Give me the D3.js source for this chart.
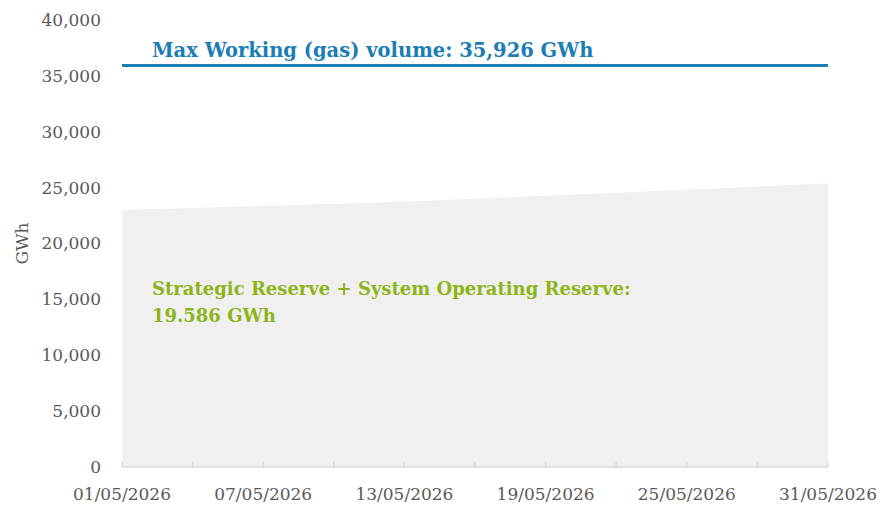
<!DOCTYPE html>
<html>
<head>
<meta charset="utf-8">
<script src="https://cdn.jsdelivr.net/npm/d3@7"></script>
<style>
  body { margin: 0; background: #fff; }
  svg { display: block; }
  .axis text { font-family: "DejaVu Serif", serif; font-size: 17px; fill: #595959; }
  .note { font-family: "DejaVu Serif", serif; font-weight: bold; }
</style>
</head>
<body>
<svg id="chart" width="879" height="505"></svg>
<script>
// daily dates in May 2026
var dates = d3.range(1, 32).map(function(d) { return new Date(2026, 4, d); });
// storage level for strategic + system operating reserve (GWh)
var reserveLevel = [23000, 23060, 23120, 23180, 23240, 23300, 23360, 23420, 23480, 23540,
  23600, 23670, 23750, 23830, 23920, 24010, 24100, 24190, 24280, 24370,
  24460, 24550, 24640, 24730, 24820, 24910, 25000, 25090, 25180, 25270, 25360];
var maxWorkingVolume = 35926;
var yTicks = [0, 5000, 10000, 15000, 20000, 25000, 30000, 35000, 40000];
var xLabelDates = [1, 7, 13, 19, 25, 31].map(function(d) { return new Date(2026, 4, d); });
var xTickDates = d3.range(1, 32, 3).map(function(d) { return new Date(2026, 4, d); });

var margins = { left: 122, right: 51, top: 20, bottom: 38 };
var width = 879, height = 505;

var svg = d3.select('#chart');

var xScale = d3.scaleTime()
  .domain([dates[0], dates[dates.length - 1]])
  .range([margins.left, width - margins.right]);
var yScale = d3.scaleLinear()
  .domain([0, 40000])
  .range([height - margins.bottom, margins.top]);

var items = dates.map(function(d, i) { return { date: d, value: reserveLevel[i] }; });

// shaded reserve area
var area = d3.area()
  .x(function(d) { return xScale(d.date); })
  .y0(yScale(0))
  .y1(function(d) { return yScale(d.value); });

svg.append('path')
  .datum(items)
  .attr('d', area)
  .attr('fill', '#f0f0f0');

// y axis (labels only)
var yAxis = svg.append('g')
  .attr('class', 'axis')
  .attr('transform', 'translate(' + (margins.left - 21) + ',0)')
  .call(d3.axisLeft(yScale).tickValues(yTicks).tickSize(0).tickFormat(d3.format(',')));
yAxis.select('.domain').remove();
yAxis.selectAll('text').attr('x', 0).attr('dy', '0.32em');

// x axis line and ticks
var xAxis = svg.append('g')
  .attr('class', 'axis')
  .attr('transform', 'translate(0,' + yScale(0) + ')');
xAxis.append('line')
  .attr('x1', xScale.range()[0]).attr('x2', xScale.range()[1])
  .attr('stroke', '#d9d9d9').attr('stroke-width', 1.5);
xAxis.selectAll('line.tick').data(xTickDates).enter()
  .append('line')
  .attr('class', 'tick')
  .attr('x1', function(d) { return xScale(d); })
  .attr('x2', function(d) { return xScale(d); })
  .attr('y1', 0).attr('y2', -5)
  .attr('stroke', '#d9d9d9').attr('stroke-width', 1.5);
xAxis.selectAll('text').data(xLabelDates).enter()
  .append('text')
  .attr('x', function(d) { return xScale(d); })
  .attr('y', 33)
  .attr('text-anchor', 'middle')
  .text(d3.timeFormat('%d/%m/%Y'));

// y axis title
svg.append('text')
  .attr('transform', 'translate(28,' + yScale(20000) + ') rotate(-90)')
  .attr('text-anchor', 'middle')
  .style('font-family', '"DejaVu Serif", serif')
  .style('font-size', '17px')
  .style('fill', '#595959')
  .text('GWh');

// max working volume line
svg.append('line')
  .attr('x1', xScale.range()[0]).attr('x2', xScale.range()[1])
  .attr('y1', yScale(maxWorkingVolume)).attr('y2', yScale(maxWorkingVolume))
  .attr('stroke', '#1a7db5').attr('stroke-width', 3);

svg.append('text')
  .attr('class', 'note')
  .style('font-size', '19.5px')
  .attr('x', 152).attr('y', yScale(maxWorkingVolume) - 9)
  .attr('fill', '#1a7db5')
  .text('Max Working (gas) volume: 35,926 GWh');

var green = svg.append('text')
  .attr('class', 'note')
  .style('font-size', '18px')
  .attr('fill', '#8db51a');
green.append('tspan').attr('x', 152).attr('y', 295)
  .text('Strategic Reserve + System Operating Reserve:');
green.append('tspan').attr('x', 152).attr('y', 322)
  .text('19.586 GWh');
</script>
</body>
</html>
